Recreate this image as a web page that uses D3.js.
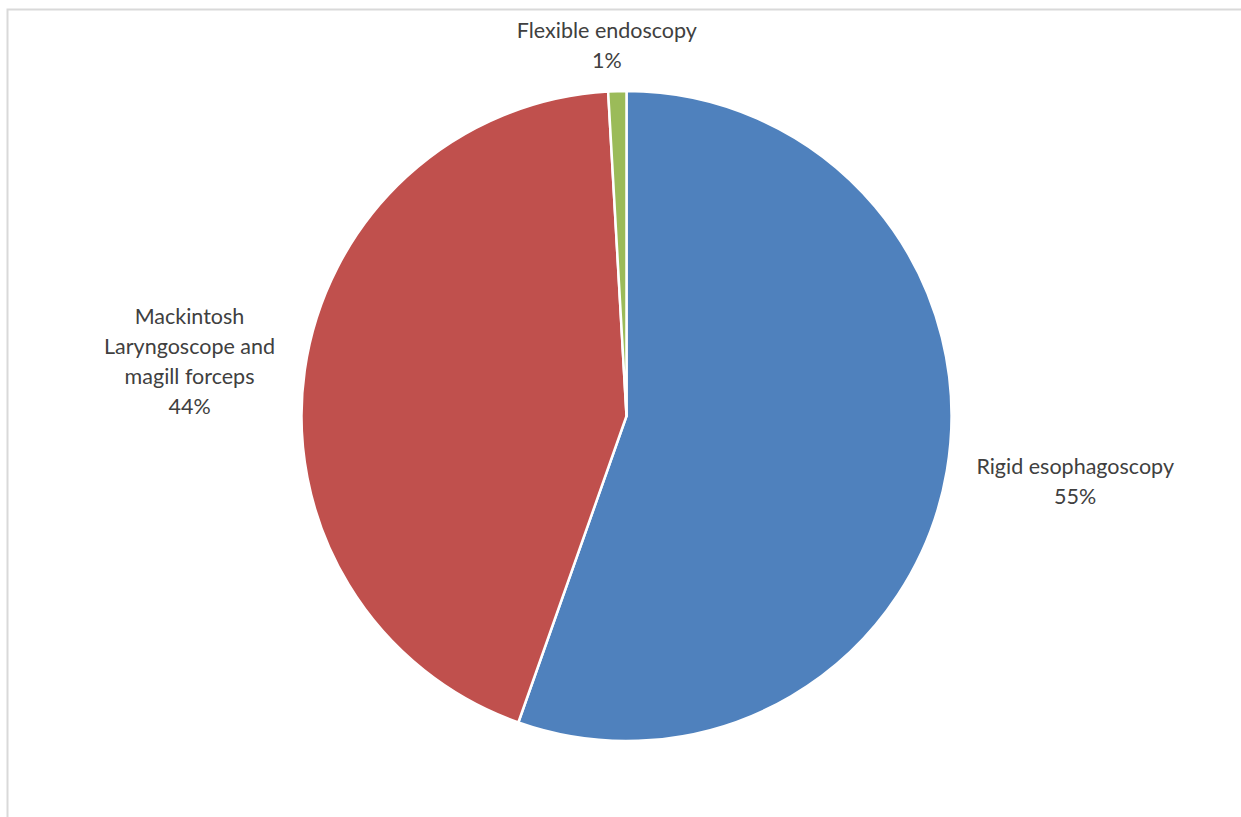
<!DOCTYPE html>
<html>
<head>
<meta charset="utf-8">
<script src="https://cdn.jsdelivr.net/npm/d3@7"></script>
<style>
  body { margin: 0; background: #fff; }
  svg { display: block; }
  text { font-family: Lato, "Liberation Sans", sans-serif; fill: #404040; }
</style>
</head>
<body>
<svg id="chart" width="1241" height="817"></svg>
<script>
const W = 1241, H = 817;

// data (share of cases, %)
const categories = ["Rigid esophagoscopy", "Mackintosh Laryngoscope and magill forceps", "Flexible endoscopy"];
const values = [55.4, 43.7, 0.9];
const pctLabels = ["55%", "44%", "1%"];
// how each label is broken over lines
const labelLines = [
  ["Rigid esophagoscopy"],
  ["Mackintosh", "Laryngoscope and", "magill forceps"],
  ["Flexible endoscopy"]
];
const colors = ["#4f81bd", "#c0504d", "#9bbb59"];

const svg = d3.select("#chart");

// chart area border (only left and top edges show in frame)
svg.append("rect")
  .attr("x", 7.5).attr("y", 9.5)
  .attr("width", W + 20).attr("height", H - 10 + 20)
  .attr("fill", "none")
  .attr("stroke", "#d9d9d9")
  .attr("stroke-width", 2);

const cx = 626.5, cy = 416, r = 325;
const g = svg.append("g").attr("transform", `translate(${cx},${cy})`);

const pie = d3.pie().sort(null).value(d => d.v);
const arcs = pie(categories.map((c, i) => ({ c, v: values[i], i })));
const arc = d3.arc().innerRadius(0).outerRadius(r);

g.selectAll("path.slice")
  .data(arcs)
  .enter()
  .append("path")
  .attr("class", "slice")
  .attr("d", arc)
  .attr("fill", d => colors[d.data.i])
  .attr("stroke", "#fff")
  .attr("stroke-width", 2.5)
  .attr("stroke-linejoin", "round");

// outside-end labels
const lineH = 30, fs = 21.5;
arcs.forEach(d => {
  const i = d.data.i;
  const mid = (d.startAngle + d.endAngle) / 2;
  const sx = Math.sin(mid), sy = -Math.cos(mid);
  const lines = labelLines[i].concat([pctLabels[i]]);
  const n = lines.length;
  const side = Math.abs(sx) > 0.5;
  let x, yTop;
  if (side) {
    x = sx * (r + 30);
    yTop = sy * (r + 60) - n * lineH / 2;
  } else {
    x = sx * (r + 16) - 10;
    yTop = sy * (r + 16) - n * lineH;
  }
  const t = g.append("text")
    .attr("text-anchor", "middle")
    .attr("font-size", fs);
  lines.forEach((s, k) => {
    t.append("tspan")
      .attr("x", x)
      .attr("y", yTop + k * lineH + lineH / 2 + fs * 0.35)
      .text(s);
  });
  if (side) {
    const w = t.node().getBBox().width;
    t.selectAll("tspan").attr("x", x + (sx > 0 ? w / 2 : -w / 2));
  }
});
</script>
</body>
</html>
